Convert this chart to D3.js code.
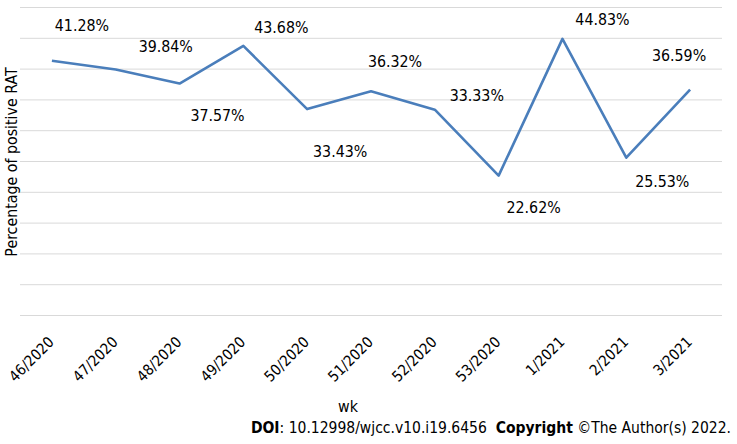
<!DOCTYPE html>
<html>
<head>
<meta charset="utf-8">
<script src="https://cdn.jsdelivr.net/npm/d3@7"></script>
<style>
  body { margin: 0; background: #fff; }
  text { font-family: Tahoma, "DejaVu Sans Condensed", "DejaVu Sans", sans-serif; }
</style>
</head>
<body>
<div id="chart"></div>
<script>
// weeks and % positive rapid antigen tests
const weeks = ["46/2020", "47/2020", "48/2020", "49/2020", "50/2020", "51/2020",
    "52/2020", "53/2020", "1/2021", "2/2021", "3/2021"];
const positiveRate = [41.28, 39.84, 37.57, 43.68, 33.43, 36.32, 33.33, 22.62, 44.83, 25.53, 36.59];
const yTicks = [0, 5, 10, 15, 20, 25, 30, 35, 40, 45, 50];

// label offsets from the point (the original labels were moved by hand)
const labelShift = [[30, -35], [50, -23], [38, 32], [38, -19], [33, 42], [24, -30],
    [42, -14], [35, 32], [40, -20], [36, 24], [-11, -34]];

var width = 737;
var height = 444;

const svg = d3.select("#chart")
    .append("svg")
    .attr("width", width)
    .attr("height", height)
    .style("background-color", "rgb(255,255,255)");

const x = d3.scaleBand()
    .domain(weeks)
    .range([20, 722]);

const y = d3.scaleLinear()
    .domain([0, 50])
    .range([315, 7]);

// gridlines
const grid = svg.append("g")
    .attr("transform", "translate(20,0)")
    .call(d3.axisLeft(y).tickValues(yTicks).tickSize(-702).tickFormat(""));
grid.select(".domain").remove();
grid.selectAll(".tick line")
    .attr("stroke", "#d9d9d9")
    .attr("stroke-width", 1);

// x labels
const xAxis = svg.append("g")
    .attr("transform", "translate(0,315)")
    .call(d3.axisBottom(x).tickSize(0).tickFormat(""));
xAxis.select(".domain").remove();

svg.selectAll(".xlab")
    .data(weeks)
    .enter()
    .append("text")
    .attr("class", "xlab")
    .attr("transform", d => `translate(${x(d) + x.bandwidth() / 2 + 3},343) rotate(-45)`)
    .attr("text-anchor", "end")
    .attr("fill", "#000")
    .style("font-size", "15px")
    .text(d => d);

const line = d3.line()
    .x((d, i) => x(weeks[i]) + x.bandwidth() / 2)
    .y(d => y(d));

svg.append("path")
    .datum(positiveRate)
    .attr("d", line)
    .attr("fill", "none")
    .attr("stroke", "#4a7ebb")
    .attr("stroke-width", 2.6)
    .attr("stroke-linejoin", "round");

// data labels
svg.selectAll(".vlab")
    .data(positiveRate)
    .enter()
    .append("text")
    .attr("class", "vlab")
    .attr("x", (d, i) => x(weeks[i]) + x.bandwidth() / 2 + labelShift[i][0])
    .attr("y", (d, i) => y(d) + labelShift[i][1])
    .attr("dy", "0.36em")
    .attr("text-anchor", "middle")
    .attr("fill", "#000")
    .style("font-size", "15.8px")
    .text(d => d.toFixed(2) + "%");

// axis titles
svg.append("text")
    .attr("transform", "translate(17,162) rotate(-90)")
    .attr("text-anchor", "middle")
    .style("font-size", "15.8px")
    .text("Percentage of positive RAT");

svg.append("text")
    .attr("x", 348)
    .attr("y", 412)
    .attr("text-anchor", "middle")
    .style("font-size", "15.8px")
    .text("wk");

// source line
const doi = svg.append("text")
    .attr("x", 731)
    .attr("y", 433)
    .attr("text-anchor", "end")
    .style("font-size", "15.5px");
doi.append("tspan").style("font-weight", "bold").text("DOI");
doi.append("tspan").text(": 10.12998/wjcc.v10.i19.6456\u00A0\u00A0");
doi.append("tspan").style("font-weight", "bold").text("Copyright");
doi.append("tspan").text(" \u00A9The Author(s) 2022.");
</script>
</body>
</html>
